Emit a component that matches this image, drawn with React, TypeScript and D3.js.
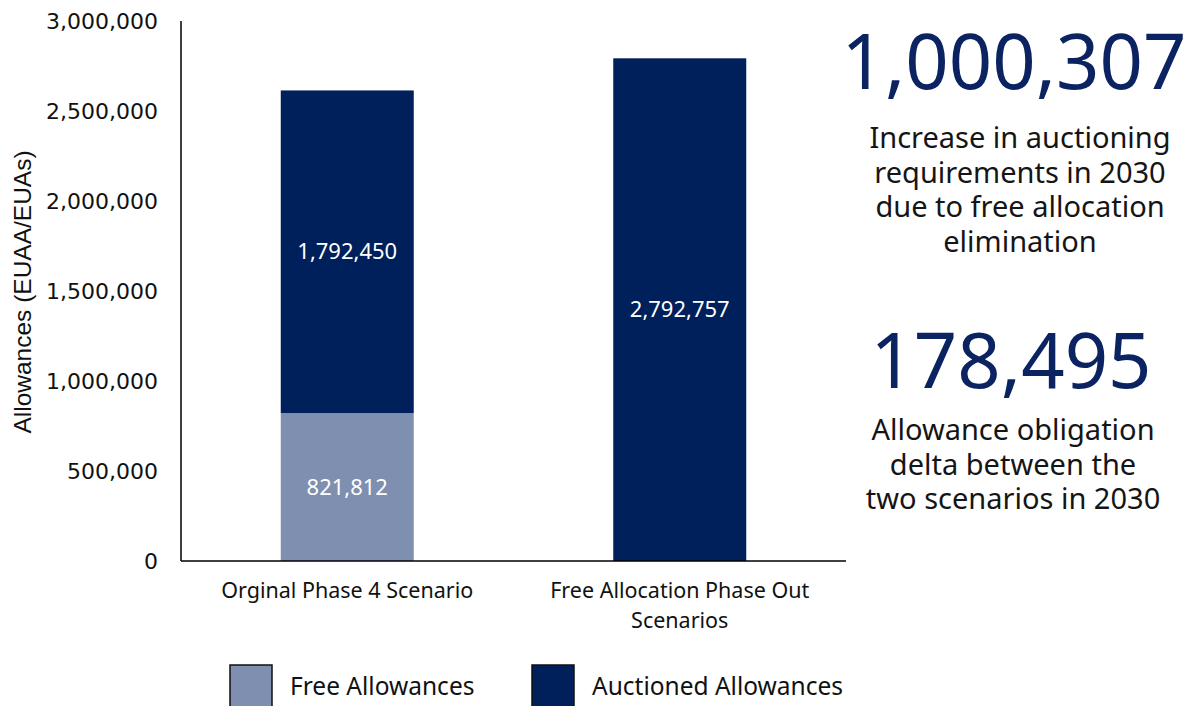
import React from "react";
import * as d3 from "d3";

const categories = ["Orginal Phase 4 Scenario", "Free Allocation Phase Out Scenarios"];
const categoryLines = [["Orginal Phase 4 Scenario"], ["Free Allocation Phase Out", "Scenarios"]];
const freeAllowances = [821812, 0];
const auctionedAllowances = [1792450, 2792757];
const yTicks = [0, 500000, 1000000, 1500000, 2000000, 2500000, 3000000];
const seriesNames = ["Free Allowances", "Auctioned Allowances"];
const seriesColors = ["#7F8FB0", "#00205B"];
const calloutNumbers = ["1,000,307", "178,495"];
const calloutTexts = [
  ["Increase in auctioning", "requirements in 2030", "due to free allocation", "elimination"],
  ["Allowance obligation", "delta between the", "two scenarios in 2030"],
];

const W = 1188;
const H = 706;
const plot = { left: 181, right: 846, top: 21, bottom: 561 };
const fmt = d3.format(",");

export default function App() {
  const x = d3
    .scaleBand<string>()
    .domain(categories)
    .range([plot.left, plot.right])
    .paddingInner(0.6)
    .paddingOuter(0.3);
  const y = d3.scaleLinear().domain([0, 3000000]).range([plot.bottom, plot.top]);

  const rows = categories.map((c, i) => ({ c, free: freeAllowances[i], auc: auctionedAllowances[i] }));
  const stack = d3.stack<any>().keys(["free", "auc"])(rows as any);

  const textFont = "'Noto Sans', sans-serif";
  const axisFont = "'DejaVu Sans', sans-serif";

  return (
    <svg
      width={W}
      height={H}
      style={{ position: "absolute", left: 0, top: 0, background: "#fff" }}
    >
      {/* bars */}
      {stack.map((layer, li) => (
        <g key={li}>
          {layer.map((d, i) => {
            const h = y(d[0]) - y(d[1]);
            if (h <= 0) return null;
            const xc = x(categories[i])!;
            return (
              <g key={i}>
                <rect
                  x={xc}
                  y={y(d[1])}
                  width={x.bandwidth()}
                  height={h}
                  fill={seriesColors[li]}
                />
                <text
                  x={xc + x.bandwidth() / 2}
                  y={(y(d[0]) + y(d[1])) / 2}
                  dy="0.35em"
                  textAnchor="middle"
                  fill="#fff"
                  fontFamily={textFont}
                  fontSize={22}
                >
                  {fmt(d[1] - d[0])}
                </text>
              </g>
            );
          })}
        </g>
      ))}

      {/* axes */}
      <line x1={plot.left} x2={plot.left} y1={plot.top} y2={plot.bottom} stroke="#000" strokeWidth={1.5} />
      <line x1={plot.left} x2={plot.right} y1={plot.bottom} y2={plot.bottom} stroke="#000" strokeWidth={1.5} />
      {yTicks.map((t) => (
        <text
          key={t}
          x={158}
          y={y(t)}
          dy="0.35em"
          textAnchor="end"
          fill="#111"
          fontFamily={axisFont}
          fontSize={22}
        >
          {fmt(t)}
        </text>
      ))}
      <text
        transform={`translate(22,${292}) rotate(-90)`}
        textAnchor="middle"
        dy="0.35em"
        fill="#111"
        fontFamily="'Liberation Sans', Arial, sans-serif"
        fontSize={24.5}
      >
        Allowances (EUAA/EUAs)
      </text>

      {/* category labels */}
      {categories.map((c, i) =>
        categoryLines[i].map((line, j) => (
          <text
            key={c + j}
            x={x(c)! + x.bandwidth() / 2}
            y={590 + j * 30}
            dy="0.35em"
            textAnchor="middle"
            fill="#111"
            fontFamily={textFont}
            fontSize={21.5}
          >
            {line}
          </text>
        ))
      )}

      {/* legend */}
      {seriesNames.map((s, i) => {
        const lx = [230, 532][i];
        return (
          <g key={s}>
            <rect x={lx} y={665} width={42} height={45} fill={seriesColors[i]} stroke="#111" strokeWidth={1.5} />
            <text x={lx + 60} y={686} dy="0.35em" fill="#111" fontFamily={textFont} fontSize={24.5}>
              {s}
            </text>
          </g>
        );
      })}

      {/* callouts */}
      {calloutNumbers.map((n, i) => {
        const cx = [1014, 1011][i];
        const ny = [62, 361][i];
        const ty = [138, 430][i];
        return (
          <g key={n}>
            <text
              x={cx}
              y={ny}
              dy="0.35em"
              textAnchor="middle"
              fill="#0B2461"
              fontFamily={textFont}
              fontSize={76}
            >
              {n}
            </text>
            {calloutTexts[i].map((t, j) => (
              <text
                key={t}
                x={[1020, 1013][i]}
                y={ty + j * 34.5}
                dy="0.35em"
                textAnchor="middle"
                fill="#151515"
                fontFamily={textFont}
                fontSize={29}
              >
                {t}
              </text>
            ))}
          </g>
        );
      })}
    </svg>
  );
}
